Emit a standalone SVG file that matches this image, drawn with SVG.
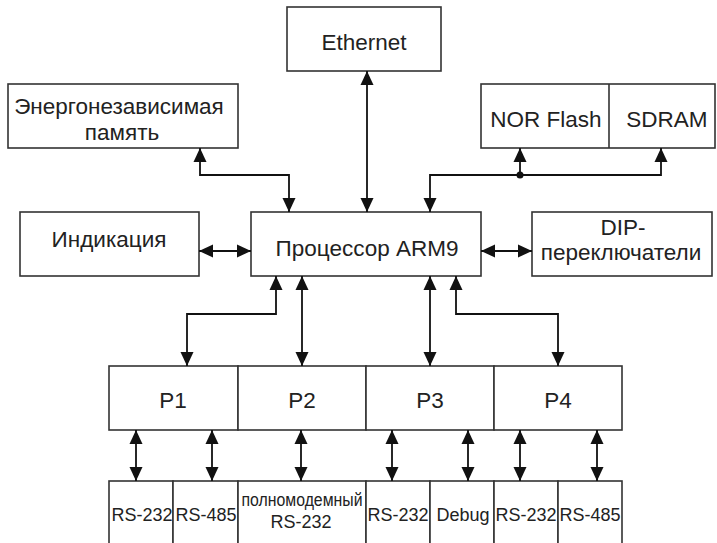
<svg xmlns="http://www.w3.org/2000/svg" width="717" height="543" viewBox="0 0 717 543">
<style>
.box{fill:#fff;stroke:#333;stroke-width:1.6}
.t{font-family:"Liberation Sans",Arial,sans-serif;font-size:22.5px;fill:#222;text-anchor:middle}
.s{font-family:"Liberation Sans",Arial,sans-serif;font-size:18px;fill:#222;text-anchor:middle}
.c{fill:none;stroke:#111;stroke-width:1.8}
</style>
<defs>
<marker id="ah" markerUnits="userSpaceOnUse" markerWidth="14" markerHeight="14" refX="14" refY="7" orient="auto-start-reverse">
<path d="M0,0.5 L14,7 L0,13.5 z" fill="#111"/>
</marker>
</defs>
<rect width="717" height="543" fill="#fff"/>
<g id="ethernet"><rect class="box" x="287" y="7" width="154" height="64"/><text class="t" x="364" y="50">Ethernet</text></g>
<g id="nvram"><rect class="box" x="8" y="84" width="230" height="64"/><text class="t" x="119" y="114">Энергонезависимая</text><text class="t" x="122" y="140">память</text></g>
<g id="memory"><rect class="box" x="481" y="84" width="234" height="64"/><line class="box" x1="609" y1="84" x2="609" y2="148"/><text class="t" x="546" y="127">NOR Flash</text><text class="t" x="667" y="127">SDRAM</text></g>
<g id="indication"><rect class="box" x="20" y="212" width="179" height="64"/><text class="t" x="109" y="247">Индикация</text></g>
<g id="cpu"><rect class="box" x="251" y="212" width="230" height="64"/><text class="t" x="367" y="256">Процессор ARM9</text></g>
<g id="dip"><rect class="box" x="532" y="212" width="180" height="64"/><text class="t" x="623" y="235">DIP-</text><text class="t" x="621" y="260">переключатели</text></g>
<g id="p1"><rect class="box" x="109" y="366" width="129" height="64"/><text class="t" x="173" y="408">P1</text></g>
<g id="p2"><rect class="box" x="238" y="366" width="128" height="64"/><text class="t" x="302" y="408">P2</text></g>
<g id="p3"><rect class="box" x="366" y="366" width="128" height="64"/><text class="t" x="430" y="408">P3</text></g>
<g id="p4"><rect class="box" x="494" y="366" width="128" height="64"/><text class="t" x="558" y="408">P4</text></g>
<g id="b1"><rect class="box" x="109" y="481" width="64" height="80"/><text class="s" x="142" y="521">RS-232</text></g>
<g id="b2"><rect class="box" x="173" y="481" width="65" height="80"/><text class="s" x="206" y="521">RS-485</text></g>
<g id="b3"><rect class="box" x="238" y="481" width="128" height="80"/><text class="s" x="302" y="506" textLength="121" lengthAdjust="spacingAndGlyphs">полномодемный</text><text class="s" x="301" y="528">RS-232</text></g>
<g id="b4"><rect class="box" x="366" y="481" width="64" height="80"/><text class="s" x="398" y="521">RS-232</text></g>
<g id="b5"><rect class="box" x="430" y="481" width="64" height="80"/><text class="s" x="463" y="521">Debug</text></g>
<g id="b6"><rect class="box" x="494" y="481" width="64" height="80"/><text class="s" x="526" y="521">RS-232</text></g>
<g id="b7"><rect class="box" x="558" y="481" width="64" height="80"/><text class="s" x="590" y="521">RS-485</text></g>
<g id="connectors">
<path class="c" d="M200,148 V175 H289 V212" marker-start="url(#ah)" marker-end="url(#ah)"/>
<path class="c" d="M367,71 V212" marker-start="url(#ah)" marker-end="url(#ah)"/>
<path class="c" d="M430,212 V175 H661 V148" marker-start="url(#ah)" marker-end="url(#ah)"/>
<path class="c" d="M520,175 V148" marker-end="url(#ah)"/>
<circle cx="520" cy="175" r="3.5" fill="#111"/>
<path class="c" d="M199,251 H251" marker-start="url(#ah)" marker-end="url(#ah)"/>
<path class="c" d="M481,251 H532" marker-start="url(#ah)" marker-end="url(#ah)"/>
<path class="c" d="M276,276 V314 H187 V366" marker-start="url(#ah)" marker-end="url(#ah)"/>
<path class="c" d="M302,276 V366" marker-start="url(#ah)" marker-end="url(#ah)"/>
<path class="c" d="M430,276 V366" marker-start="url(#ah)" marker-end="url(#ah)"/>
<path class="c" d="M456,276 V314 H558 V366" marker-start="url(#ah)" marker-end="url(#ah)"/>
<path class="c" d="M136,430 V481" marker-start="url(#ah)" marker-end="url(#ah)"/>
<path class="c" d="M212,430 V481" marker-start="url(#ah)" marker-end="url(#ah)"/>
<path class="c" d="M301,430 V481" marker-start="url(#ah)" marker-end="url(#ah)"/>
<path class="c" d="M392,430 V481" marker-start="url(#ah)" marker-end="url(#ah)"/>
<path class="c" d="M468,430 V481" marker-start="url(#ah)" marker-end="url(#ah)"/>
<path class="c" d="M520,430 V481" marker-start="url(#ah)" marker-end="url(#ah)"/>
<path class="c" d="M597,430 V481" marker-start="url(#ah)" marker-end="url(#ah)"/>
</g>
</svg>
